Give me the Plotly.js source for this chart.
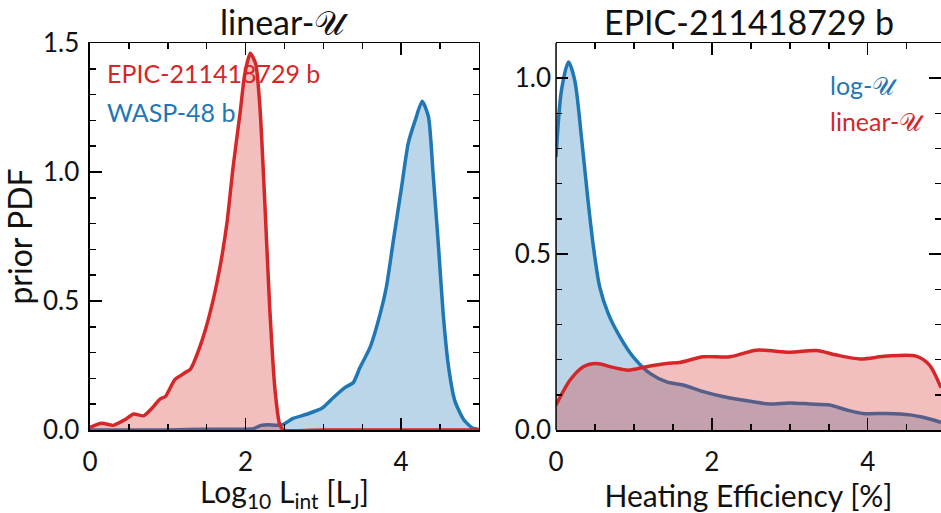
<!DOCTYPE html>
<html>
<head>
<meta charset="utf-8">
<script src="https://cdn.plot.ly/plotly-3.0.1.min.js"></script>
<style>html,body{margin:0;padding:0;background:#fff;}#plot{width:941px;height:513px;}</style>
</head>
<body>
<div id="plot"></div>
<script>
// Left panel: Log10 L_int prior PDFs (linear-U)
const epicLintX = [0, 0.15, 0.30, 0.45, 0.56, 0.69, 0.80, 0.90, 0.97, 1.09, 1.16, 1.22, 1.29, 1.41, 1.54, 1.67, 1.76, 1.84, 1.93, 1.99, 2.06, 2.13, 2.185, 2.25, 2.31, 2.38, 2.44, 2.49, 3.0, 4.0, 5.0];
const epicLintY = [0.01, 0.026, 0.018, 0.04, 0.062, 0.055, 0.085, 0.12, 0.13, 0.195, 0.21, 0.222, 0.235, 0.32, 0.45, 0.63, 0.80, 1.02, 1.23, 1.38, 1.46, 1.42, 1.25, 0.865, 0.476, 0.15, 0.02, 0.0, 0.0, 0.0, 0.0];
const waspLintX = [0, 0.5, 1.0, 1.5, 2.0, 2.1, 2.2, 2.3, 2.4, 2.485, 2.61, 2.785, 2.98, 3.13, 3.28, 3.385, 3.47, 3.60, 3.73, 3.81, 3.90, 4.006, 4.09, 4.18, 4.27, 4.35, 4.41, 4.48, 4.54, 4.61, 4.69, 4.80, 4.91, 5.0];
const waspLintY = [0.0, 0.0, 0.0, 0.003, 0.003, 0.005, 0.018, 0.02, 0.018, 0.022, 0.045, 0.061, 0.084, 0.126, 0.165, 0.184, 0.242, 0.32, 0.45, 0.554, 0.735, 0.943, 1.11, 1.20, 1.274, 1.215, 0.995, 0.71, 0.45, 0.242, 0.113, 0.042, 0.009, 0.002];

// Right panel: heating efficiency prior PDFs (EPIC-211418729 b)
const logUX = [0.0, 0.07, 0.16, 0.24, 0.33, 0.41, 0.48, 0.56, 0.67, 0.82, 0.99, 1.205, 1.42, 1.63, 1.89, 2.14, 2.53, 2.74, 3.0, 3.26, 3.51, 3.73, 3.94, 4.24, 4.54, 4.71, 4.94];
const logUY = [0.776, 0.966, 1.046, 0.994, 0.824, 0.653, 0.52, 0.407, 0.331, 0.265, 0.208, 0.161, 0.137, 0.128, 0.109, 0.095, 0.08, 0.074, 0.077, 0.074, 0.071, 0.057, 0.047, 0.047, 0.043, 0.036, 0.022];
const linUX = [0.0, 0.18, 0.35, 0.52, 0.73, 0.93, 1.16, 1.42, 1.59, 1.89, 2.23, 2.57, 3.0, 3.34, 3.6, 3.9, 4.24, 4.62, 4.79, 4.94];
const linUY = [0.071, 0.142, 0.18, 0.189, 0.178, 0.17, 0.18, 0.189, 0.192, 0.208, 0.208, 0.227, 0.221, 0.226, 0.213, 0.202, 0.21, 0.21, 0.185, 0.12];

const BLUE = '#1f77b4', RED = '#d62728';
const BLUEF = 'rgba(31,119,180,0.3)', REDF = 'rgba(214,39,40,0.3)';
const FONT = 'Lato, "Open Sans", sans-serif';
const CU = '\u{1D4B0}';
const LW = 3.5;

const traces = [
  {x: waspLintX, y: waspLintY, xaxis: 'x', yaxis: 'y', mode: 'lines', fill: 'tozeroy', fillcolor: BLUEF,
   line: {color: BLUE, width: LW, shape: 'spline', smoothing: 0.6}},
  {x: epicLintX, y: epicLintY, xaxis: 'x', yaxis: 'y', mode: 'lines', fill: 'tozeroy', fillcolor: REDF,
   line: {color: RED, width: LW, shape: 'spline', smoothing: 0.6}},
  {x: logUX, y: logUY, xaxis: 'x2', yaxis: 'y2', mode: 'lines', fill: 'tozeroy', fillcolor: BLUEF,
   line: {color: BLUE, width: LW, shape: 'spline', smoothing: 0.8}},
  {x: linUX, y: linUY, xaxis: 'x2', yaxis: 'y2', mode: 'lines', fill: 'tozeroy', fillcolor: REDF,
   line: {color: RED, width: LW, shape: 'spline', smoothing: 0.8}}
];

const tickFont = {family: FONT, size: 26, color: '#111'};
const titleFont = {family: FONT, size: 30, color: '#111'};
const axCommon = {
  ticks: 'inside', ticklen: 12, tickwidth: 1.5, tickcolor: '#000',
  showline: true, linecolor: '#000', linewidth: 1.5, mirror: 'ticks',
  showgrid: false, zeroline: false, tickfont: tickFont
};
const minorX = {dtick: 0.5, ticks: 'inside', ticklen: 6, tickwidth: 1.5, tickcolor: '#000'};
const minorY = {dtick: 0.1, ticks: 'inside', ticklen: 6, tickwidth: 1.5, tickcolor: '#000'};

const layout = {
  width: 941, height: 513,
  margin: {l: 0, r: 0, t: 43, b: 83},
  paper_bgcolor: '#fff', plot_bgcolor: '#fff',
  showlegend: false,
  font: {family: FONT, color: '#111'},
  xaxis: Object.assign({}, axCommon, {domain: [0.0956, 0.509], range: [0, 5], tick0: 0, dtick: 2,
    anchor: 'y', ticklabelstandoff: 8, minor: minorX,
    title: {text: 'Log<sub>10</sub> L<sub>int</sub> [L<sub>J</sub>]', font: titleFont, standoff: 2}}),
  yaxis: Object.assign({}, axCommon, {domain: [0, 1], range: [0, 1.5], tick0: 0, dtick: 0.5, tickformat: '.1f',
    anchor: 'x', ticklabelstandoff: 4, minor: minorY,
    title: {text: 'prior PDF', font: {family: FONT, size: 32, color: '#111'}, standoff: 2}}),
  xaxis2: Object.assign({}, axCommon, {domain: [0.5909, 1], range: [0, 4.94], tick0: 0, dtick: 2,
    anchor: 'y2', ticklabelstandoff: 8, minor: minorX,
    title: {text: 'Heating Efficiency [%]', font: titleFont, standoff: 2}}),
  yaxis2: Object.assign({}, axCommon, {domain: [0, 1], range: [0, 1.1], tick0: 0, dtick: 0.5, tickformat: '.1f',
    anchor: 'x2', showline: false, ticklabelstandoff: 4, minor: minorY}),
  shapes: [
    {type: 'line', xref: 'x2 domain', yref: 'y2 domain', x0: 0, x1: 0, y0: 0, y1: 1,
     line: {color: '#000', width: 1.5}}
  ],
  annotations: [
    {text: 'linear-' + CU, xref: 'x domain', yref: 'paper', x: 0.5, y: 1, yshift: 22, yanchor: 'middle',
     showarrow: false, font: {family: FONT, size: 34, color: '#111'}},
    {text: 'EPIC-211418729 b', xref: 'x2 domain', yref: 'paper', x: 0.5, y: 1, yshift: 22, yanchor: 'middle',
     showarrow: false, font: {family: FONT, size: 34, color: '#111'}},
    {text: 'EPIC-211418729 b', xref: 'paper', yref: 'paper', x: 105/941, xanchor: 'left', y: 1 - (73 - 43) / 387, yanchor: 'middle',
     showarrow: false, font: {family: FONT, size: 25, color: RED}},
    {text: 'WASP-48 b', xref: 'paper', yref: 'paper', x: 105/941, xanchor: 'left', y: 1 - (112 - 43) / 387, yanchor: 'middle',
     showarrow: false, font: {family: FONT, size: 25, color: BLUE}},
    {text: 'log-' + CU, xref: 'paper', yref: 'paper', x: 828/941, xanchor: 'left', y: 1 - (85 - 43) / 387, yanchor: 'middle',
     showarrow: false, font: {family: FONT, size: 25, color: BLUE}},
    {text: 'linear-' + CU, xref: 'paper', yref: 'paper', x: 828/941, xanchor: 'left', y: 1 - (121 - 43) / 387, yanchor: 'middle',
     showarrow: false, font: {family: FONT, size: 25, color: RED}}
  ]
};

Plotly.newPlot('plot', traces, layout, {displayModeBar: false, staticPlot: true});
</script>
</body>
</html>
